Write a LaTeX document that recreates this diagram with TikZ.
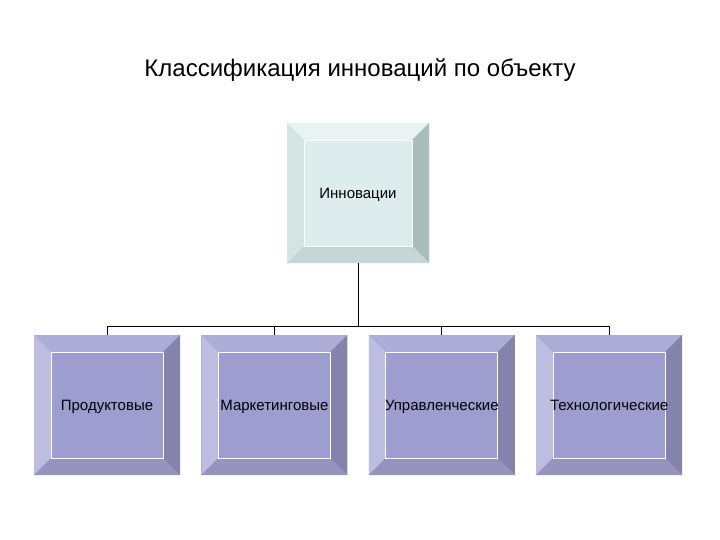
\documentclass[tikz,border=0pt]{standalone}
\usepackage{fontspec}
\setmainfont{Liberation Sans}
\usetikzlibrary{positioning}
\definecolor{topface}{HTML}{DDEDED}
\definecolor{toptop}{HTML}{E9F3F3}
\definecolor{topleft}{HTML}{D3E4E4}
\definecolor{topright}{HTML}{A9BDBD}
\definecolor{topbottom}{HTML}{C4D6D6}
\definecolor{subface}{HTML}{9D9DCF}
\definecolor{subtop}{HTML}{ACACD6}
\definecolor{subleft}{HTML}{BDBDE2}
\definecolor{subright}{HTML}{8383AE}
\definecolor{subbottom}{HTML}{9494BE}
\def\pp{path picture bounding box}
\def\bev{17pt}
\tikzset{
    x=1pt, y=-1pt,
    bevel/.style n args={5}{% face, top, left, right, bottom
        rectangle, inner sep=0pt, fill=#1,
        font=\fontsize{15}{18}\selectfont, text height=2.6ex, text depth=0.4ex,
        path picture={
            \fill[#2] (\pp.north west) -- (\pp.north east)
                -- ([xshift=-\bev,yshift=-\bev]\pp.north east) -- ([xshift=\bev,yshift=-\bev]\pp.north west) -- cycle;
            \fill[#3] (\pp.north west) -- ([xshift=\bev,yshift=-\bev]\pp.north west)
                -- ([xshift=\bev,yshift=\bev]\pp.south west) -- (\pp.south west) -- cycle;
            \fill[#4] (\pp.north east) -- (\pp.south east)
                -- ([xshift=-\bev,yshift=\bev]\pp.south east) -- ([xshift=-\bev,yshift=-\bev]\pp.north east) -- cycle;
            \fill[#5] (\pp.south west) -- (\pp.south east)
                -- ([xshift=-\bev,yshift=\bev]\pp.south east) -- ([xshift=\bev,yshift=\bev]\pp.south west) -- cycle;
            \draw[white, line width=0.8pt] ([xshift=\bev,yshift=-\bev]\pp.north west) rectangle ([xshift=-\bev,yshift=\bev]\pp.south east);
        }
    },
    topbox/.style={bevel={topface}{toptop}{topleft}{topright}{topbottom}, minimum width=142pt, minimum height=140pt},
    subbox/.style={bevel={subface}{subtop}{subleft}{subright}{subbottom}, minimum width=146pt, minimum height=140pt},
    link/.style={draw=black, line width=0.8pt},
}
\begin{document}
\begin{tikzpicture}
    \useasboundingbox[fill=white] (0,0) rectangle (720,540);
    \node[font=\fontsize{24}{28}\selectfont] (title) at (360,70) {Классификация инноваций по объекту};

    \node[topbox] (innov) at (358,193) {Инновации};

    \node[subbox] (prod) at (107,405) {Продуктовые};
    \node[subbox, right=21pt of prod] (mark) {Маркетинговые};
    \node[subbox, right=21pt of mark] (upr) {Управленческие};
    \node[subbox, right=21pt of upr] (tech) {Технологические};

    \foreach \n in {prod,mark,upr,tech}
        \draw[link] (innov.south) -- ++(0,63) -| (\n.north);
\end{tikzpicture}
\end{document}
